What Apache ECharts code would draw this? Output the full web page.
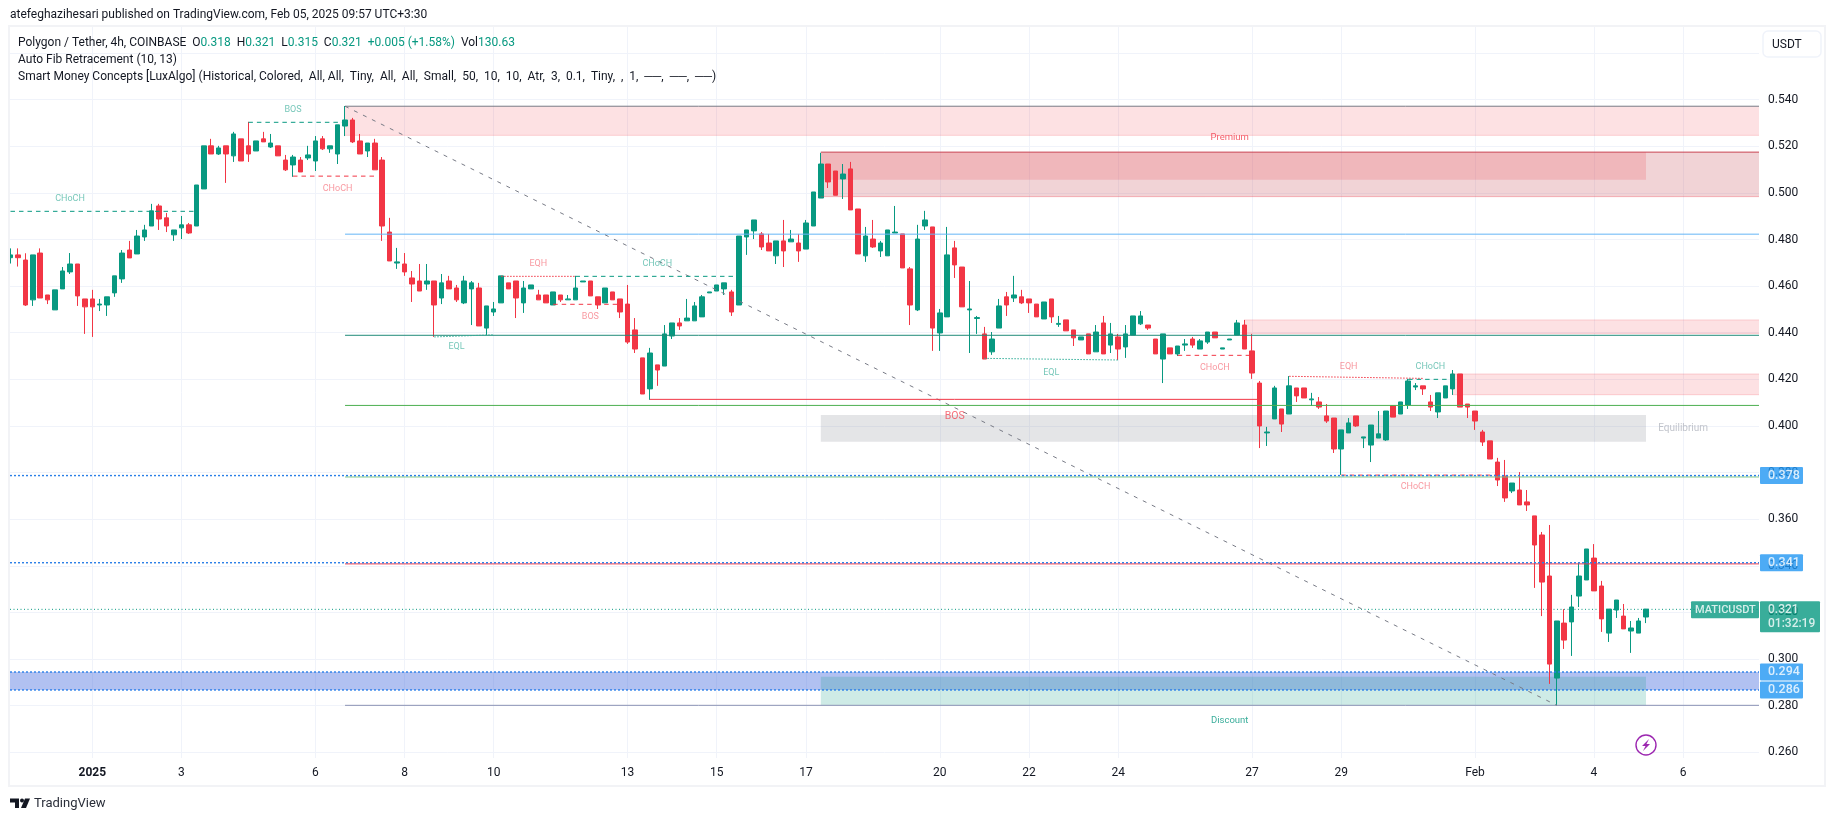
<!DOCTYPE html>
<html><head><meta charset="utf-8">
<style>html,body{margin:0;padding:0;background:#fff}#c{width:1835px;height:821px}</style>
<script src="https://cdn.jsdelivr.net/npm/echarts@6/dist/echarts.min.js"></script>
</head><body><div id="c"></div>
<script>
const opens=[.4722,.4734,.4712,.4541,.4742,.4562,.4498,.4588,.4661,.4695,
.4545,.4545,.4519,.4519,.4571,.4631,.4755,.4738,.4811,.4858,
.4944,.4893,.4820,.4850,.4863,.4858,.5017,.5202,.5167,.5202,
.5159,.5232,.5202,.5180,.5232,.5197,.5202,.5141,.5120,.5141,
.5150,.5137,.5232,.5189,.5167,.5287,.5313,.5223,.5180,.5214,
.5141,.4832,.4699,.4695,.4635,.4622,.4609,.4622,.4549,.4622,
.4592,.4528,.4588,.4592,.4420,.4489,.4528,.4614,.4622,.4528,
.4588,.4562,.4562,.4519,.4562,.4541,.4541,.4618,.4622,.4554,
.4528,.4575,.4545,.4523,.4412,.4292,.4159,.4262,.4257,.4386,
.4442,.4451,.4451,.4468,.4571,.4579,.4588,.4575,.4519,.4811,
.4837,.4824,.4785,.4730,.4794,.4790,.4785,.4759,.4858,.4978,
.5124,.5094,.5060,.5103,.4931,.4730,.4802,.4751,.4730,.4828,
.4824,.4674,.4498,.4858,.4854,.4399,.4468,.4764,.4682,.4498,
.4461,.4395,.4318,.4420,.4554,.4549,.4554,.4545,.4523,.4459,
.4545,.4436,.4455,.4412,.4369,.4395,.4318,.4442,.4347,.4382,
.4339,.4390,.4438,.4433,.4373,.4287,.4335,.4309,.4347,.4373,
.4330,.4360,.4403,.4330,.4369,.4390,.4433,.4322,.4184,.3970,
.4030,.4073,.4051,.4163,.4163,.4112,.4103,.4043,.4034,.3901,
.3970,.4043,.3948,.3918,.3948,.3940,.4086,.4051,.4090,.4167,
.4172,.4103,.4060,.4120,.4159,.4223,.4094,.4064,.3974,.3936,
.3845,.3785,.3721,.3725,.3674,.3614,.3532,.3356,.2918,.3154,
.3159,.3270,.3339,.3433,.3313,.3111,.3210,.3184,.3120,.3111,
.3180];
const closes=[.4734,.4722,.4519,.4734,.4549,.4541,.4584,.4665,.4695,.4558,
.4511,.4511,.4523,.4554,.4644,.4742,.4721,.4815,.4841,.4923,
.4888,.4858,.4841,.4863,.4828,.5034,.5202,.5167,.5193,.5167,
.5253,.5137,.5167,.5223,.5219,.5214,.5159,.5099,.5154,.5090,
.5163,.5223,.5189,.5202,.5292,.5313,.5219,.5167,.5214,.5099,
.4858,.4708,.4704,.4661,.4609,.4579,.4622,.4519,.4614,.4588,
.4541,.4622,.4614,.4429,.4515,.4502,.4644,.4588,.4549,.4592,
.4605,.4541,.4528,.4575,.4541,.4545,.4592,.4622,.4558,.4519,
.4592,.4541,.4489,.4360,.4330,.4137,.4313,.4240,.4395,.4442,
.4429,.4463,.4515,.4554,.4575,.4605,.4614,.4489,.4815,.4841,
.4884,.4768,.4751,.4794,.4751,.4802,.4751,.4871,.5004,.5124,
.5047,.4990,.5081,.4927,.4738,.4815,.4768,.4785,.4841,.4832,
.4678,.4519,.4802,.4884,.4420,.4485,.4734,.4691,.4511,.4502,
.4465,.4287,.4373,.4515,.4519,.4562,.4528,.4528,.4468,.4532,
.4468,.4440,.4408,.4378,.4382,.4309,.4403,.4309,.4395,.4330,
.4395,.4472,.4472,.4420,.4309,.4395,.4309,.4343,.4352,.4347,
.4365,.4403,.4378,.4335,.4373,.4442,.4330,.4227,.4000,.3974,
.4163,.4008,.4172,.4129,.4120,.4116,.4081,.4021,.3901,.3983,
.4013,.4000,.3953,.4004,.3966,.4064,.4038,.4103,.4193,.4172,
.4159,.4081,.4142,.4172,.4223,.4081,.4081,.4021,.3931,.3858,
.3768,.3691,.3755,.3661,.3661,.3489,.3330,.2978,.3163,.3081,
.3223,.3356,.3472,.3292,.3172,.3214,.3253,.3129,.3133,.3163,
.3214];
const lows=[.4697,.4684,.4515,.4515,.4549,.4523,.4498,.4588,.4652,.4515,
.4395,.4382,.4493,.4472,.4554,.4614,.4721,.4738,.4794,.4858,
.4841,.4832,.4794,.4802,.4824,.4858,.5017,.5167,.5163,.5043,
.5133,.5137,.5133,.5180,.5219,.5193,.5159,.5094,.5069,.5090,
.5141,.5094,.5184,.5172,.5124,.5244,.5214,.5167,.5154,.5099,
.4794,.4708,.4674,.4644,.4532,.4579,.4584,.4382,.4523,.4588,
.4532,.4523,.4433,.4429,.4390,.4472,.4528,.4588,.4463,.4485,
.4588,.4541,.4528,.4519,.4532,.4541,.4541,.4618,.4558,.4502,
.4528,.4541,.4463,.4352,.4313,.4137,.4112,.4172,.4257,.4373,
.4412,.4451,.4451,.4468,.4571,.4579,.4562,.4472,.4519,.4734,
.4802,.4755,.4751,.4695,.4682,.4790,.4704,.4759,.4858,.4978,
.5021,.4990,.4974,.4927,.4738,.4704,.4764,.4725,.4730,.4828,
.4678,.4433,.4493,.4841,.4322,.4322,.4468,.4635,.4511,.4313,
.4395,.4287,.4305,.4420,.4472,.4532,.4523,.4485,.4468,.4459,
.4442,.4425,.4408,.4343,.4369,.4309,.4318,.4309,.4313,.4283,
.4292,.4390,.4433,.4412,.4309,.4184,.4309,.4300,.4322,.4335,
.4330,.4352,.4378,.4330,.4369,.4390,.4330,.4202,.3905,.3914,
.4030,.3974,.4051,.4103,.4120,.4086,.4073,.4013,.3884,.3790,
.3970,.3996,.3905,.3845,.3948,.3936,.4038,.4051,.4073,.4154,
.4133,.4064,.4034,.4120,.4133,.4081,.4034,.3983,.3914,.3858,
.3742,.3674,.3712,.3661,.3635,.3305,.3184,.2893,.2802,.3043,
.3013,.3223,.3339,.3292,.3116,.3073,.3176,.3129,.3026,.3111,
.3154];
const highs=[.4762,.4762,.4741,.4734,.4762,.4562,.4584,.4682,.4742,.4695,
.4545,.4584,.4545,.4554,.4644,.4755,.4794,.4841,.4863,.4953,
.4953,.4914,.4841,.4901,.4871,.5034,.5202,.5232,.5202,.5202,
.5262,.5232,.5305,.5223,.5262,.5253,.5202,.5163,.5163,.5154,
.5202,.5244,.5244,.5202,.5292,.5373,.5322,.5253,.5214,.5232,
.5154,.4893,.4764,.4742,.4665,.4695,.4695,.4622,.4652,.4644,
.4605,.4644,.4622,.4614,.4515,.4532,.4644,.4614,.4622,.4622,
.4605,.4584,.4562,.4575,.4562,.4562,.4644,.4622,.4622,.4554,
.4592,.4575,.4545,.4605,.4463,.4292,.4335,.4262,.4433,.4442,
.4463,.4545,.4532,.4562,.4575,.4605,.4614,.4584,.4815,.4841,
.4884,.4832,.4824,.4794,.4884,.4841,.4824,.4884,.5004,.5172,
.5124,.5094,.5124,.5133,.4931,.4854,.4884,.4794,.4841,.4944,
.4824,.4682,.4863,.4923,.4854,.4502,.4854,.4794,.4682,.4622,
.4472,.4425,.4403,.4545,.4575,.4644,.4584,.4545,.4523,.4532,
.4545,.4472,.4455,.4412,.4382,.4395,.4433,.4472,.4442,.4395,
.4433,.4472,.4493,.4433,.4373,.4395,.4335,.4343,.4373,.4382,
.4373,.4403,.4403,.4335,.4373,.4455,.4455,.4395,.4193,.3996,
.4172,.4073,.4214,.4163,.4163,.4142,.4124,.4094,.4034,.3983,
.4034,.4043,.3953,.4004,.4064,.4064,.4086,.4103,.4202,.4184,
.4172,.4133,.4142,.4172,.4240,.4223,.4094,.4064,.3983,.3936,
.3863,.3854,.3755,.3802,.3725,.3614,.3545,.3575,.3163,.3214,
.3275,.3416,.3472,.3493,.3335,.3214,.3253,.3236,.3163,.3176,
.3214];

const dayTicks=[11,23,41,53,65,83,95,107,125,137,149,167,179,197,213,225];
const dayLabels=['2025','3','6','8','10','13','15','17','20','22','24','27','29','Feb','4','6'];
const priceTicks=[.26,.28,.30,.32,.34,.36,.38,.40,.42,.44,.46,.48,.50,.52,.54,.56];

const firstBar=-0.067, lastBar=235.2;

// zones: from bar, to bar, upper price, lower price
const zoneFrom=[45,109,109,109,166,194,firstBar,109];
const zoneTo=[lastBar,lastBar,220,220,lastBar,lastBar,lastBar,220];
const zoneHigh=[.5372,.5175,.5175,.4047,.4455,.4223,.2944,.2924];
const zoneLow=[.5247,.4984,.5056,.3932,.4397,.4134,.2867,.2801];
const zoneTint=['pink','rose','red','grey','pink','pink','blue','teal'];

// fibonacci levels, from the anchor bar to the right edge
const fibAnchor=45;
const fibPrices=[.5372,.4823,.4389,.4088,.3781,.3408,.2801];
const fibTint=['#787b86','#64b5f6','#1f8a78','#4caf50','#81c784','#f23645','#8b93b5'];
// trend line of the fib tool
const fibTrend=[[45,.5372],[208,.2801]];
// horizontal price lines over the whole pane
const alertPrices=[.3787,.3413,.2944,.2867];
const alertTexts=['0.378','0.341','0.294','0.286'];
const lastPrice=.3213;

// market structure segments: from, price, to, price, kind
const structure=[
[0,.4921,25,.4921,'tealDash'],
[32,.5303,45,.5303,'tealDash'],
[38,.5072,49,.5072,'redDash'],
[57,.4382,65,.4391,'tealDot'],
[66,.4642,76,.4642,'redDot'],
[76,.4642,98,.4642,'tealDash'],
[73,.4522,82,.4522,'redDash'],
[86,.4114,168,.4114,'redSolid'],
[131,.4290,149,.4283,'tealDot'],
[157,.4303,167,.4303,'redDash'],
[172,.4213,190,.4204,'redDot'],
[188,.4200,194,.4200,'tealDash'],
[179,.3789,200,.3789,'redDash']
];
// chart notes: text, bar, price, kind
const notes=[
['CHoCH',8,.4977,'teal'],['BOS',38,.5355,'teal'],['CHoCH',44,.5020,'red'],
['EQL',60,.4340,'teal'],['EQH',71,.4698,'red'],['CHoCH',87,.4698,'teal'],['BOS',78,.4470,'red'],
['EQL',140,.4228,'teal'],['CHoCH',162,.4251,'red'],['EQH',180,.4256,'red'],
['CHoCH',191,.4256,'teal'],['CHoCH',189,.3739,'red'],
['BOS',127,.4040,'big'],['Premium',164,.5238,'prem'],['Equilibrium',225,.3990,'grey'],['Discount',164,.2735,'teal2']
];

const UI='Roboto, "Open Sans", sans-serif';
const tints={pink:'rgba(242,54,69,.15)',rose:'rgba(200,80,90,.25)',red:'rgba(240,54,69,.18)',
 grey:'rgba(120,123,134,.2)',blue:'rgba(60,100,220,.4)',teal:'rgba(8,153,129,.2)'};
const lineKinds={
 tealDash:{color:'#089981',type:[4.5,4],width:1},redDash:{color:'#f23645',type:[4.5,4],width:1},
 tealDot:{color:'#2fae98',type:[1.5,1.5],width:1},redDot:{color:'#f23645',type:[1.5,1.5],width:1},
 redSolid:{color:'#f23645',type:'solid',width:1}};
const noteKinds={
 teal:{color:'rgba(8,153,129,.7)',fontSize:9},red:{color:'rgba(242,54,69,.65)',fontSize:9},
 big:{color:'rgba(242,54,69,.9)',fontSize:10.5},prem:{color:'#f23645',fontSize:9.5},
 grey:{color:'#b2b5be',fontSize:10},teal2:{color:'#089981',fontSize:9.5}};

function seg(points,style,z){return {type:'line',data:points,showSymbol:false,symbol:'none',silent:true,z:z||6,
  lineStyle:style,animation:false};}
const series=[];
series.push({type:'custom',z:1,silent:true,animation:false,clip:true,
 data:zoneFrom.map((f,i)=>[f,zoneTo[i],zoneHigh[i],zoneLow[i]]),
 encode:{x:[0,1],y:[2,3]},
 renderItem(p,api){
  const a=api.coord([api.value(0),api.value(2)]),b=api.coord([api.value(1),api.value(3)]);
  return {type:'rect',shape:{x:a[0],y:a[1],width:b[0]-a[0],height:b[1]-a[1]},style:{fill:tints[zoneTint[p.dataIndex]]}};
 }});
series.push({type:'candlestick',z:5,barWidth:5,animation:false,silent:true,
 data:opens.map((o,i)=>[i,o,closes[i],lows[i],highs[i]]),
 itemStyle:{color:'#089981',color0:'#f23645',borderColor:'#089981',borderColor0:'#f23645',borderWidth:1}});
fibPrices.forEach((p,i)=>series.push(seg([[fibAnchor,p],[lastBar,p]],{color:fibTint[i],width:1})));
series.push(seg(fibTrend,{color:'#787b86',width:1,type:[4,6]}));
series.push(seg([[fibAnchor,.5247],[lastBar,.5247]],{color:'rgba(242,54,69,.2)',width:1}));
series.push(seg([[109,.5175],[lastBar,.5175]],{color:'#c8404e',width:1}));
series.push(seg([[109,.4984],[lastBar,.4984]],{color:'rgba(242,54,69,.3)',width:1}));
series.push(seg([[166,.4455],[lastBar,.4455]],{color:'rgba(242,54,69,.2)',width:1}));
series.push(seg([[166,.4397],[lastBar,.4397]],{color:'rgba(242,54,69,.2)',width:1}));
series.push(seg([[194,.4223],[lastBar,.4223]],{color:'rgba(242,54,69,.2)',width:1}));
series.push(seg([[194,.4134],[lastBar,.4134]],{color:'rgba(242,54,69,.2)',width:1}));
alertPrices.forEach(p=>series.push(seg([[firstBar,p],[lastBar,p]],{color:'#2a7fe8',width:1.4,type:[2,2]},7)));
series.push(seg([[firstBar,lastPrice],[lastBar,lastPrice]],{color:'#089981',width:1,type:[1,2.5]},4));
structure.forEach(r=>series.push(seg([[r[0],r[1]],[r[2],r[3]]],lineKinds[r[4]])));
series.push({type:'scatter',symbolSize:0,z:8,silent:true,animation:false,
 data:notes.map(n=>({name:n[0],value:[n[1],n[2]],label:Object.assign({},noteKinds[n[3]])})),
 label:{show:true,position:'inside',formatter:'{b}',fontFamily:UI}});
// price badges on the scale
series.push({type:'scatter',symbolSize:0,z:20,silent:true,animation:false,clip:false,
 data:alertPrices.map((p,i)=>({name:alertTexts[i],value:[lastBar,p]})),
 label:{show:true,position:[1,-8.5],align:'left',verticalAlign:'top',formatter:'{b}',width:35,height:17,lineHeight:17,
  padding:[0,0,0,8],backgroundColor:'#2196f3',color:'#fff',fontSize:12.5,fontFamily:UI,fontWeight:500,borderRadius:1}});
series.push({type:'scatter',symbolSize:0,z:21,silent:true,animation:false,clip:false,
 data:[{name:'0.321\n01:32:19',value:[lastBar,lastPrice]}],
 label:{show:true,position:[1,-8],align:'left',verticalAlign:'top',formatter:'{b}',width:52,height:29,lineHeight:14,
  padding:[2,0,0,8],backgroundColor:'#089981',color:'#fff',fontSize:12,fontFamily:UI,fontWeight:500,borderRadius:1}});
series.push({type:'scatter',symbolSize:0,z:21,silent:true,animation:false,clip:false,
 data:[{name:'MATICUSDT',value:[lastBar,lastPrice]}],
 label:{show:true,position:[-68,-8],align:'left',verticalAlign:'top',formatter:'{b}',width:64,height:17,lineHeight:17,
  padding:[0,0,0,4],backgroundColor:'#089981',color:'#fff',fontSize:11,fontFamily:UI,fontWeight:500,borderRadius:1}});

const T='#131722', G='#089981';
const legendRich={t:{fill:T,font:'12px '+UI},v:{fill:G,font:'12px '+UI}};
const chart=echarts.init(document.getElementById('c'),null,{renderer:'canvas'});
chart.setOption({
 animation:false,backgroundColor:'#fff',
 grid:{left:10,right:76,top:27,bottom:63,containLabel:false},
 xAxis:{type:'value',min:firstBar,max:lastBar,scale:true,
  axisLine:{show:false},axisTick:{show:false,customValues:dayTicks},
  splitLine:{show:true,lineStyle:{color:'#f0f3fa',width:1}},
  axisLabel:{customValues:dayTicks,color:T,fontSize:12,fontFamily:UI,margin:9,showMinLabel:true,showMaxLabel:true,
   formatter:v=>{const l=dayLabels[dayTicks.indexOf(v)];return l==='2025'?'{b|2025}':l;},
   rich:{b:{fontWeight:'bold',fontSize:12,color:T,fontFamily:UI}}}},
 yAxis:{type:'value',min:.2575,max:.5712,position:'right',scale:true,
  axisLine:{show:false},axisTick:{show:false,customValues:priceTicks},
  splitLine:{show:true,lineStyle:{color:'#f0f3fa',width:1}},
  axisLabel:{customValues:priceTicks,color:T,fontSize:12,fontFamily:UI,margin:9,
   formatter:v=>v.toFixed(3)}},
 series,
 graphic:[
  {type:'rect',z:100,silent:true,shape:{x:9,y:26,width:1816,height:760},style:{fill:'none',stroke:'#f2f3f6',lineWidth:2}},
  {type:'text',z:100,silent:true,style:{x:10,y:15,text:'atefeghazihesari published on TradingView.com, Feb 05, 2025 09:57 UTC+3:30',fill:T,font:'12px '+UI,verticalAlign:'middle'}},
  {type:'text',z:100,silent:true,style:{x:18,y:42.5,verticalAlign:'middle',rich:legendRich,fill:T,font:'12px '+UI,
    text:'{t|Polygon / Tether, 4h, COINBASE  O}{v|0.318}{t|  H}{v|0.321}{t|  L}{v|0.315}{t|  C}{v|0.321}{v|  +0.005 (+1.58%)}{t|  Vol}{v|130.63}'}},
  {type:'text',z:100,silent:true,style:{x:18,y:59.5,verticalAlign:'middle',text:'Auto Fib Retracement (10, 13)',fill:T,font:'12px '+UI}},
  {type:'text',z:100,silent:true,style:{x:18,y:76.5,verticalAlign:'middle',text:'Smart Money Concepts [LuxAlgo] (Historical, Colored,  All, All,  Tiny,  All,  All,  Small,  50,  10,  10,  Atr,  3,  0.1,  Tiny,  ,  1,  ──,  ──,  ──)',fill:T,font:'12px '+UI}},
  {type:'rect',z:100,silent:true,shape:{x:1763,y:31,width:58,height:26,r:5},style:{fill:'#fff',stroke:'#f0f3fa',lineWidth:1.5}},
  {type:'text',z:101,silent:true,style:{x:1772,y:44.5,verticalAlign:'middle',text:'USDT',fill:T,font:'12px '+UI}},
  {type:'circle',z:100,silent:true,shape:{cx:1646,cy:745,r:10},style:{fill:'#fff',stroke:'#9c27b0',lineWidth:1.4}},
  {type:'polygon',z:101,silent:true,shape:{points:[[1649,739],[1642,746],[1645.5,746],[1643,751],[1650,744],[1646.5,744]]},style:{fill:'#9c27b0'}},
  {type:'polygon',z:100,silent:true,shape:{points:[[10,798.5],[19,798.5],[19,808],[15,808],[15,802.5],[10,802.5]]},style:{fill:T}},
  {type:'circle',z:100,silent:true,shape:{cx:22,cy:800.5,r:2},style:{fill:T}},
  {type:'polygon',z:100,silent:true,shape:{points:[[25,798.5],[30,798.5],[26,808],[21,808]]},style:{fill:T}},
  {type:'text',z:100,silent:true,style:{x:34,y:804,verticalAlign:'middle',text:'TradingView',fill:'#2a2e39',font:'13px '+UI}}
 ]
});
</script></body></html>
